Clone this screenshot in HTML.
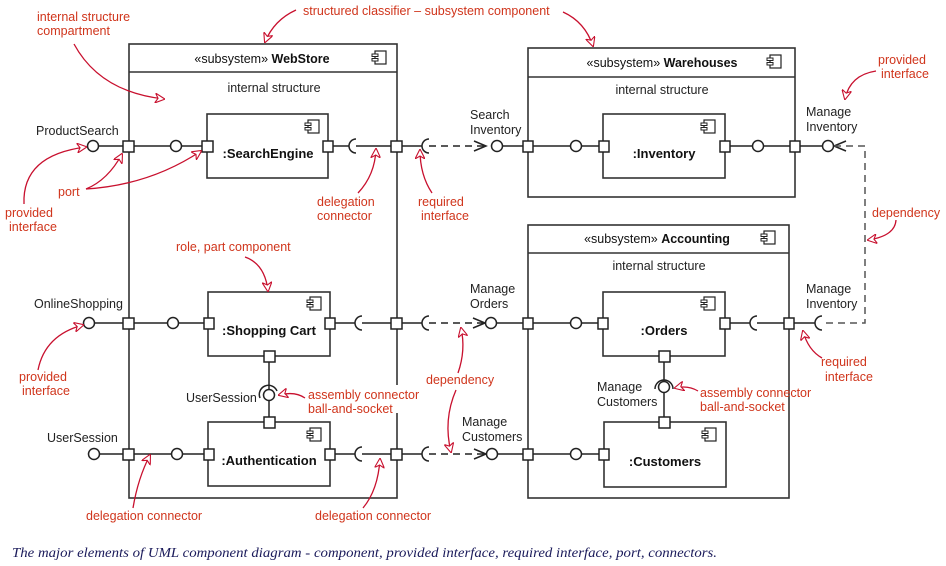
<!DOCTYPE html>
<html><head><meta charset="utf-8"><style>
html,body{margin:0;padding:0;background:#fff;}
svg{display:block;}
.t{font-family:"Liberation Sans",sans-serif;font-size:12.5px;fill:#222;}
.h{font-family:"Liberation Sans",sans-serif;font-size:12.5px;fill:#111;}
.b{font-family:"Liberation Sans",sans-serif;font-size:13px;font-weight:bold;fill:#111;}
.r{font-family:"Liberation Sans",sans-serif;font-size:12.5px;fill:#d0351c;}
.cap{font-family:"Liberation Serif",serif;font-style:italic;font-size:13.5px;fill:#1a1a5a;}
</style></head><body>
<svg width="946" height="566" viewBox="0 0 946 566" xmlns="http://www.w3.org/2000/svg">
<defs>
<marker id="ah" viewBox="0 0 10 10" refX="9" refY="5" markerWidth="10" markerHeight="10" orient="auto" markerUnits="userSpaceOnUse">
<path d="M0,0 L10,5 L0,10 L3,5 z" fill="#fff" stroke="#c8102e" stroke-width="1.1"/>
</marker>
<g id="ci"><rect x="0" y="0" width="11" height="13" fill="#fff" stroke="#222" stroke-width="1.2"/><rect x="-3" y="3" width="6" height="2.5" fill="#fff" stroke="#222" stroke-width="1"/><rect x="-3" y="7.5" width="6" height="2.5" fill="#fff" stroke="#222" stroke-width="1"/></g>
</defs>
<g stroke="#333" stroke-width="1.6" fill="none">
<rect x="129" y="44" width="268" height="454" fill="#fff"/>
<line x1="129" y1="72" x2="397" y2="72"/>
<rect x="528" y="48" width="267" height="149" fill="#fff"/>
<line x1="528" y1="77" x2="795" y2="77"/>
<rect x="528" y="225" width="261" height="273" fill="#fff"/>
<line x1="528" y1="253" x2="789" y2="253"/>
<rect x="207" y="114" width="121" height="64"/>
<rect x="208" y="292" width="122" height="64"/>
<rect x="208" y="422" width="122" height="64"/>
<rect x="603" y="114" width="122" height="64"/>
<rect x="603" y="292" width="122" height="64"/>
<rect x="604" y="422" width="122" height="65"/>
</g>
<g stroke="#222" stroke-width="1.5" fill="none">
<line x1="98" y1="146" x2="170" y2="146"/><line x1="182" y1="146" x2="208" y2="146"/>
<line x1="328" y1="146" x2="349" y2="146"/><line x1="356" y1="146" x2="422" y2="146"/>
<path d="M356,139 A7,7 0 0 0 356,153"/><path d="M429,139 A7,7 0 0 0 429,153"/>
<line x1="429" y1="146" x2="486" y2="146" stroke-dasharray="7,5"/>
<polyline points="474,141 486,146 474,151"/>
<line x1="502" y1="146" x2="571" y2="146"/><line x1="582" y1="146" x2="604" y2="146"/>
<line x1="725" y1="146" x2="752" y2="146"/><line x1="763" y1="146" x2="823" y2="146"/>
<polyline points="846,141 834,146 846,151"/>
<polyline points="834,146 865,146 865,323 822,323" stroke-dasharray="7,5" stroke="#555"/>
<line x1="95" y1="323" x2="168" y2="323"/><line x1="179" y1="323" x2="209" y2="323"/>
<line x1="330" y1="323" x2="355" y2="323"/><line x1="362" y1="323" x2="422" y2="323"/>
<path d="M362,316 A7,7 0 0 0 362,330"/><path d="M429,316 A7,7 0 0 0 429,330"/>
<line x1="429" y1="323" x2="485" y2="323" stroke-dasharray="7,5"/>
<polyline points="473,318 485,323 473,328"/>
<line x1="496" y1="323" x2="571" y2="323"/><line x1="582" y1="323" x2="603" y2="323"/>
<line x1="725" y1="323" x2="750" y2="323"/><line x1="757" y1="323" x2="815" y2="323"/>
<path d="M757,316 A7,7 0 0 0 757,330"/><path d="M822,316 A7,7 0 0 0 822,330"/>
<line x1="100" y1="454" x2="172" y2="454"/><line x1="183" y1="454" x2="209" y2="454"/>
<line x1="330" y1="454" x2="355" y2="454"/><line x1="362" y1="454" x2="422" y2="454"/>
<path d="M362,447 A7,7 0 0 0 362,461"/><path d="M429,447 A7,7 0 0 0 429,461"/>
<line x1="429" y1="454" x2="486" y2="454" stroke-dasharray="7,5"/>
<polyline points="474,449 486,454 474,459"/>
<line x1="497" y1="454" x2="571" y2="454"/><line x1="582" y1="454" x2="604" y2="454"/>
<line x1="269" y1="356" x2="269" y2="422"/>
<line x1="664" y1="356" x2="664" y2="422"/>
</g>
<g stroke="#222" stroke-width="1.5" fill="#fff">
<circle cx="93" cy="146" r="5.5"/><circle cx="176" cy="146" r="5.5"/>
<circle cx="497" cy="146" r="5.5"/><circle cx="576" cy="146" r="5.5"/>
<circle cx="758" cy="146" r="5.5"/><circle cx="828" cy="146" r="5.5"/>
<circle cx="89" cy="323" r="5.5"/><circle cx="173" cy="323" r="5.5"/>
<circle cx="491" cy="323" r="5.5"/><circle cx="576" cy="323" r="5.5"/>
<circle cx="94" cy="454" r="5.5"/><circle cx="177" cy="454" r="5.5"/>
<circle cx="492" cy="454" r="5.5"/><circle cx="576" cy="454" r="5.5"/>
<circle cx="269" cy="395" r="5.5"/><circle cx="664" cy="387" r="5.5"/>
<path d="M260,398 A9,9 0 0 1 277,391" fill="none"/>
<path d="M655,389 A9,9 0 0 1 673,389" fill="none"/>
<rect x="123" y="141" width="11" height="11"/><rect x="202" y="141" width="11" height="11"/>
<rect x="323" y="141" width="10" height="11"/><rect x="391" y="141" width="11" height="11"/>
<rect x="523" y="141" width="10" height="11"/><rect x="599" y="141" width="10" height="11"/>
<rect x="720" y="141" width="10" height="11"/><rect x="790" y="141" width="10" height="11"/>
<rect x="123" y="318" width="11" height="11"/><rect x="204" y="318" width="10" height="11"/>
<rect x="325" y="318" width="10" height="11"/><rect x="391" y="318" width="11" height="11"/>
<rect x="264" y="351" width="11" height="11"/><rect x="264" y="417" width="11" height="11"/>
<rect x="123" y="449" width="11" height="11"/><rect x="204" y="449" width="10" height="11"/>
<rect x="325" y="449" width="10" height="11"/><rect x="391" y="449" width="11" height="11"/>
<rect x="523" y="318" width="10" height="11"/><rect x="598" y="318" width="10" height="11"/>
<rect x="720" y="318" width="10" height="11"/><rect x="784" y="318" width="10" height="11"/>
<rect x="659" y="351" width="11" height="11"/><rect x="659" y="417" width="11" height="11"/>
<rect x="523" y="449" width="10" height="11"/><rect x="599" y="449" width="10" height="11"/>
</g>
<use href="#ci" x="375" y="51"/><use href="#ci" x="770" y="55"/><use href="#ci" x="764" y="231"/>
<use href="#ci" x="308" y="120"/><use href="#ci" x="310" y="297"/><use href="#ci" x="310" y="428"/>
<use href="#ci" x="704" y="120"/><use href="#ci" x="704" y="297"/><use href="#ci" x="705" y="428"/>

<text class="h" x="262" y="63" text-anchor="middle">«subsystem» <tspan font-weight="bold">WebStore</tspan></text>
<text class="h" x="662" y="67" text-anchor="middle">«subsystem» <tspan font-weight="bold">Warehouses</tspan></text>
<text class="h" x="657" y="243" text-anchor="middle">«subsystem» <tspan font-weight="bold">Accounting</tspan></text>
<text class="t" x="274" y="92" text-anchor="middle">internal structure</text>
<text class="t" x="662" y="94" text-anchor="middle">internal structure</text>
<text class="t" x="659" y="270" text-anchor="middle">internal structure</text>
<text class="b" x="268" y="158" text-anchor="middle">:SearchEngine</text>
<text class="b" x="269" y="335" text-anchor="middle">:Shopping Cart</text>
<text class="b" x="269" y="465" text-anchor="middle">:Authentication</text>
<text class="b" x="664" y="158" text-anchor="middle">:Inventory</text>
<text class="b" x="664" y="335" text-anchor="middle">:Orders</text>
<text class="b" x="665" y="466" text-anchor="middle">:Customers</text>
<text class="t" x="36" y="135">ProductSearch</text>
<text class="t" x="34" y="308">OnlineShopping</text>
<text class="t" x="47" y="442">UserSession</text>
<text class="t" x="186" y="402">UserSession</text>
<text class="t" x="470" y="119">Search</text><text class="t" x="470" y="134">Inventory</text>
<text class="t" x="470" y="293">Manage</text><text class="t" x="470" y="308">Orders</text>
<text class="t" x="462" y="426">Manage</text><text class="t" x="462" y="441">Customers</text>
<text class="t" x="806" y="116">Manage</text><text class="t" x="806" y="131">Inventory</text>
<text class="t" x="806" y="293">Manage</text><text class="t" x="806" y="308">Inventory</text>
<text class="t" x="597" y="391">Manage</text><text class="t" x="597" y="406">Customers</text>

<g stroke="#c8102e" stroke-width="1.3" fill="none" marker-end="url(#ah)">
<path d="M74,44 Q100,92 164,99"/>
<path d="M296,10 Q274,20 265,42"/>
<path d="M563,12 Q585,22 593,46"/>
<path d="M876,71 Q850,75 845,99"/>
<path d="M24,204 Q22,155 86,147"/>
<path d="M86,189 Q108,180 122,154"/>
<path d="M86,189 Q150,185 201,151"/>
<path d="M358,193 Q375,175 376,149"/>
<path d="M432,193 Q420,175 420,150"/>
<path d="M245,257 Q265,264 268,291"/>
<path d="M38,370 Q45,335 83,325"/>
<path d="M305,398 Q295,391 279,395"/>
<path d="M458,373 Q466,350 461,328"/>
<path d="M456,390 Q443,420 451,452"/>
<path d="M133,508 Q138,478 150,455"/>
<path d="M363,508 Q378,490 380,459"/>
<path d="M896,220 Q895,236 868,240"/>
<path d="M822,358 Q808,350 803,331"/>
<path d="M698,391 Q688,385 675,388"/>
</g>
<rect x="306" y="385" width="104" height="28" fill="#fff"/>
<text class="r" x="37" y="21">internal structure</text><text class="r" x="37" y="35">compartment</text>
<text class="r" x="303" y="15">structured classifier – subsystem component</text>
<text class="r" x="878" y="64">provided</text><text class="r" x="881" y="78">interface</text>
<text class="r" x="58" y="196">port</text>
<text class="r" x="5" y="217">provided</text><text class="r" x="9" y="231">interface</text>
<text class="r" x="317" y="206">delegation</text><text class="r" x="317" y="220">connector</text>
<text class="r" x="418" y="206">required</text><text class="r" x="421" y="220">interface</text>
<text class="r" x="176" y="251">role, part component</text>
<text class="r" x="19" y="381">provided</text><text class="r" x="22" y="395">interface</text>
<text class="r" x="308" y="399">assembly connector</text><text class="r" x="308" y="413">ball-and-socket</text>
<text class="r" x="426" y="384">dependency</text>
<text class="r" x="86" y="520">delegation connector</text>
<text class="r" x="315" y="520">delegation connector</text>
<text class="r" x="872" y="217">dependency</text>
<text class="r" x="821" y="366">required</text><text class="r" x="825" y="381">interface</text>
<text class="r" x="700" y="397">assembly connector</text><text class="r" x="700" y="411">ball-and-socket</text>

<text class="cap" x="12" y="557" textLength="705" lengthAdjust="spacingAndGlyphs">The major elements of UML component diagram - component, provided interface, required interface, port, connectors.</text>
</svg>
</body></html>
